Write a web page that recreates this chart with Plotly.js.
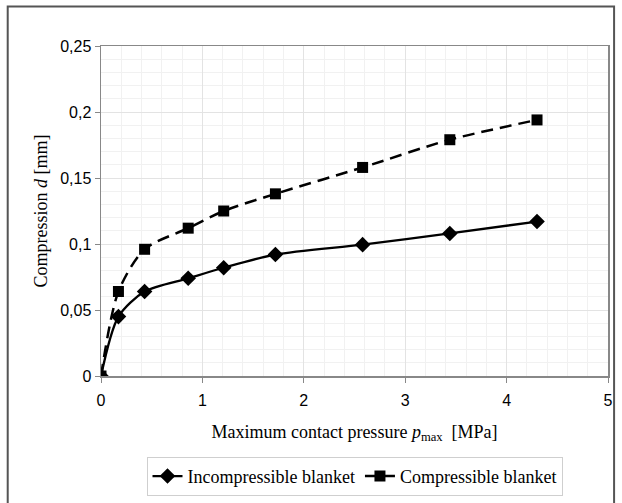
<!DOCTYPE html>
<html>
<head>
<meta charset="utf-8">
<script src="https://cdn.plot.ly/plotly-3.0.1.min.js"></script>
<style>html,body{margin:0;padding:0;background:#fff;}#chart{width:622px;height:503px;}</style>
</head>
<body>
<div id="chart"></div>
<script>
var pressure = [0, 0.172, 0.43, 0.86, 1.21, 1.72, 2.58, 3.44, 4.30];
var incompressible = [0, 0.045, 0.064, 0.074, 0.082, 0.092, 0.0995, 0.108, 0.117];
var compressible = [0, 0.064, 0.096, 0.112, 0.125, 0.138, 0.158, 0.179, 0.194];
var yTicks = [0, 0.05, 0.1, 0.15, 0.2, 0.25];
var yTickText = ['0', '0,05', '0,1', '0,15', '0,2', '0,25'];
var xTicks = [0, 1, 2, 3, 4, 5];
var seriesNames = ['Incompressible blanket', 'Compressible blanket'];

var traces = [
  {x: pressure, y: incompressible, name: seriesNames[0], type: 'scatter', mode: 'lines+markers',
   line: {color: '#000', width: 2.3, shape: 'spline', smoothing: 0.8},
   marker: {symbol: 'diamond', size: 12, color: '#000'}},
  {x: pressure, y: compressible, name: seriesNames[1], type: 'scatter', mode: 'lines+markers',
   line: {color: '#000', width: 2.5, dash: '12px,7px', shape: 'spline', smoothing: 0.8},
   marker: {symbol: 'square', size: 11, color: '#000'}}
];

var layout = {
  width: 622, height: 503,
  margin: {l: 100.5, r: 14, t: 45.5, b: 127, autoexpand: false},
  paper_bgcolor: '#fff', plot_bgcolor: '#fff',
  showlegend: true,
  font: {family: 'Liberation Sans, Arial, sans-serif', color: '#000', size: 16},
  xaxis: {
    range: [0, 5], tickvals: xTicks, ticktext: xTicks.map(String),
    showgrid: true, gridcolor: '#e3e3e3', gridwidth: 1,
    minor: {dtick: 0.2, showgrid: true, gridcolor: '#f1f1f1', gridwidth: 1},
    showline: true, linecolor: '#888', linewidth: 1.5, mirror: true,
    ticks: 'outside', ticklen: 5, tickcolor: '#888', zeroline: false,
    ticklabelstandoff: 4,
    tickfont: {family: 'Liberation Sans, Arial, sans-serif', size: 16},
    title: {text: 'Maximum contact pressure <i>p</i><sub>max</sub>  [MPa]',
            font: {family: 'Liberation Serif, Times New Roman, serif', size: 18}, standoff: 17}
  },
  yaxis: {
    range: [0, 0.25], tickvals: yTicks, ticktext: yTickText,
    showgrid: true, gridcolor: '#e3e3e3', gridwidth: 1,
    minor: {dtick: 0.01, showgrid: true, gridcolor: '#f1f1f1', gridwidth: 1},
    showline: true, linecolor: '#888', linewidth: 1.5, mirror: true,
    ticks: 'outside', ticklen: 5, tickcolor: '#888', zeroline: false,
    tickfont: {family: 'Liberation Sans, Arial, sans-serif', size: 16},
    title: {text: 'Compression <i>d</i> [mm]',
            font: {family: 'Liberation Serif, Times New Roman, serif', size: 18}, standoff: 8}
  },
  legend: {
    orientation: 'h', x: 0.5, xanchor: 'center', y: -0.245, yanchor: 'top',
    bordercolor: '#cfcfcf', borderwidth: 1, bgcolor: '#fff',
    font: {family: 'Liberation Serif, Times New Roman, serif', size: 18},
    itemwidth: 30
  },
  shapes: [
    {type: 'rect', xref: 'paper', yref: 'paper', x0: -0.184, x1: 1.012, y0: -0.4, y1: 1.1195,
     line: {color: '#555', width: 2}, fillcolor: 'rgba(0,0,0,0)', layer: 'below'}
  ]
};

Plotly.newPlot('chart', traces, layout, {displayModeBar: false, staticPlot: true});
</script>
</body>
</html>
